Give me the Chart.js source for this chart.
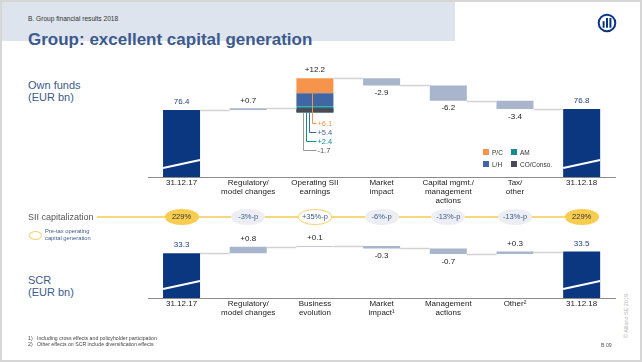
<!DOCTYPE html>
<html>
<head>
<meta charset="utf-8">
<script src="https://cdn.jsdelivr.net/npm/chart.js@4.4.1/dist/chart.umd.min.js"></script>
<style>
  html, body { margin: 0; padding: 0; }
  body { width: 642px; height: 362px; position: relative; overflow: hidden; background: #fff;
         font-family: "Liberation Sans", Arial, sans-serif; }
  .frame { position: absolute; left: 0; top: 0; width: 642px; height: 362px; box-sizing: border-box;
           border: 2px solid #d6d6d6; }
  .band { position: absolute; left: 2px; top: 2px; width: 453px; height: 39px; background: #dde4ee; }
  .txt { position: absolute; white-space: nowrap; }
  canvas { position: absolute; }
  .sii-line { position: absolute; left: 97px; top: 216px; width: 486px; height: 2px; background: #f6d77e; }
  .pill { position: absolute; width: 34px; height: 16px; border-radius: 50%; box-sizing: border-box;
          font-size: 7.5px; line-height: 16px; text-align: center; color: #3c5a8c; }
  .pill.total { background: #f8cc4f; color: #333; }
  .pill.delta { background: #eceef3; }
  .pill.pretax { background: #fff; border: 1.5px solid #f3d274; line-height: 13px; }
  .sq { position: absolute; width: 6px; height: 6px; }
  .lg { position: absolute; font-size: 6.5px; line-height: 7px; color: #333; }
</style>
</head>
<body>
<div class="frame"></div>
<div class="band"></div>
<div class="txt" style="left:28px; top:15px; font-size:6.6px; line-height:7px; color:#333;">B. Group financial results 2018</div>
<div class="txt" style="left:28px; top:31px; font-size:17px; line-height:17px; font-weight:bold; color:#3c5a8c;">Group: excellent capital generation</div>
<svg style="position:absolute; left:597px; top:13px;" width="20" height="20" viewBox="0 0 20 20">
  <circle cx="10" cy="10" r="8.3" fill="none" stroke="#0b3680" stroke-width="2"/>
  <rect x="5.6" y="8.2" width="2" height="6.5" fill="#0b3680"/>
  <rect x="9" y="5" width="2" height="9.7" fill="#0b3680"/>
  <rect x="12.4" y="5" width="2" height="9.7" fill="#0b3680"/>
</svg>

<div class="txt" style="left:28px; top:79px; font-size:11px; line-height:12px; color:#3c5a8c;">Own funds<br>(EUR bn)</div>
<div class="txt" style="left:28px; top:274px; font-size:11px; line-height:12px; color:#3c5a8c;">SCR<br>(EUR bn)</div>

<canvas id="ownFunds" width="480" height="160" style="left:140px; top:55px;"></canvas>
<canvas id="scr" width="480" height="106" style="left:140px; top:230px;"></canvas>

<div id="opLegend"></div>

<div class="sii-line"></div>
<div class="txt" style="left:28px; top:212px; font-size:9px; line-height:10px; color:#555;">SII capitalization</div>
<div id="siiRow"></div>
<div style="position:absolute; left:29px; top:231px; width:11px; height:7px; border:1.3px solid #f3d274; border-radius:50%;"></div>
<div class="txt" style="left:45px; top:228px; font-size:5.8px; line-height:6.6px; color:#3c5a8c;">Pre-tax operating<br>capital generation</div>

<div class="txt" style="left:28px; top:335px; font-size:5.2px; line-height:6.2px; color:#444;">1)&nbsp;&nbsp;&nbsp;Including cross effects and policyholder participation<br>2)&nbsp;&nbsp;&nbsp;Other effects on SCR include diversification effects</div>
<div class="txt" style="left:601px; top:342px; font-size:5.2px; line-height:6px; color:#555;">B 09</div>
<div class="txt" style="left:626px; top:316px; font-size:5.5px; line-height:6px; color:#b5b5b5; transform: translate(-50%, -50%) rotate(-90deg);">© Allianz SE 2019</div>

<script>
// Own funds waterfall
const ofCategories = [['31.12.17'], ['Regulatory/', 'model changes'], ['Operating SII', 'earnings'],
  ['Market', 'impact'], ['Capital mgmt./', 'management', 'actions'], ['Tax/', 'other'], ['31.12.18']];
const ofOpening = 76.4;
const ofDeltas = [0.7, 12.2, -2.9, -6.2, -3.4];
const ofClosing = 76.8;

// split of operating SII earnings
const opLabels = ['P/C', 'L/H', 'AM', 'CO/Conso.'];
const opValues = [6.1, 5.4, 2.4, -1.7];

// SII capitalization row
const siiLabels = ['229%', '-3%-p', '+35%-p', '-6%-p', '-13%-p', '-13%-p', '229%'];

// SCR waterfall
const scrCategories = [['31.12.17'], ['Regulatory/', 'model changes'], ['Business', 'evolution'],
  ['Market', 'impact\u00b9'], ['Management', 'actions'], ['Other\u00b2'], ['31.12.18']];
const scrOpening = 33.3;
const scrDeltas = [0.8, 0.1, -0.3, -0.7, 0.3];
const scrClosing = 33.5;

const NAVY = '#0b3680';
const STEP = '#a9b5cc';
const opColors = ['#f7944c', '#4066a4', '#138d8f', '#4a4a55'];
const FONT = '"Liberation Sans", Arial, sans-serif';
const BAR_PCT = 0.555;

function fmt(v) {
  return (v > 0 ? '+' : '') + v.toFixed(1);
}

// builds floating bars + levels for a waterfall
function buildWaterfall(opening, deltas, closing, axisMin, skipIdx) {
  const n = deltas.length + 2;
  const totals = new Array(n).fill(null);
  const steps = new Array(n).fill(null);
  const levels = [opening];
  totals[0] = [axisMin, opening];
  totals[n - 1] = [axisMin, closing];
  let level = opening;
  deltas.forEach((d, i) => {
    if (i + 1 !== skipIdx) steps[i + 1] = [level, level + d];
    level += d;
    levels.push(level);
  });
  levels.push(closing);
  return { totals, steps, levels };
}

const waterfallDecor = {
  id: 'waterfallDecor',
  afterDatasetsDraw(chart, args, opts) {
    const ctx = chart.ctx;
    const x = chart.scales.x, y = chart.scales.y;
    const half = (x.getPixelForValue(1) - x.getPixelForValue(0)) * BAR_PCT / 2;
    const bottom = chart.chartArea.bottom;
    const lv = opts.levels;
    ctx.save();

    // connectors between bars
    ctx.strokeStyle = '#d3d3d3';
    ctx.lineWidth = 1.5;
    for (let i = 0; i < lv.length - 1; i++) {
      const yy = Math.round(y.getPixelForValue(lv[i])) + 0.5;
      ctx.beginPath();
      ctx.moveTo(x.getPixelForValue(i) + half, yy);
      ctx.lineTo(x.getPixelForValue(i + 1) - half, yy);
      ctx.stroke();
    }

    // axis break on the total bars
    ctx.strokeStyle = '#fff';
    ctx.lineWidth = 2;
    [0, lv.length - 1].forEach(i => {
      const xc = x.getPixelForValue(i);
      ctx.beginPath();
      ctx.moveTo(xc - half, bottom - 9);
      ctx.lineTo(xc + half, bottom - 17);
      ctx.stroke();
    });

    // value labels
    ctx.font = '8px ' + FONT;
    ctx.textAlign = 'center';
    ctx.textBaseline = 'middle';
    ctx.fillStyle = '#1f3f7a';
    ctx.fillText(opts.opening.toFixed(1), x.getPixelForValue(0), y.getPixelForValue(opts.opening) - 8);
    ctx.fillText(opts.closing.toFixed(1), x.getPixelForValue(lv.length - 1), y.getPixelForValue(opts.closing) - 8);
    ctx.fillStyle = '#222';
    opts.deltas.forEach((d, i) => {
      const xc = x.getPixelForValue(i + 1);
      const top = Math.max(lv[i], lv[i + 1]);
      const low = Math.min(lv[i], lv[i + 1]);
      if (d > 0) ctx.fillText(fmt(d), xc, y.getPixelForValue(top) - 8);
      else ctx.fillText(fmt(d), xc, y.getPixelForValue(low) + 7.5);
    });

    // brackets for the operating earnings split
    if (opts.split) {
      const s = opts.split;
      const xc = x.getPixelForValue(s.index);
      const yb = y.getPixelForValue(s.base);
      ctx.lineWidth = 1;
      ctx.textAlign = 'left';
      ctx.font = '7.5px ' + FONT;
      s.values.forEach((v, i) => {
        const lx = Math.round(xc - 2.7 - 3.1 * i) + 0.5;
        const y0 = i === 0 ? y.getPixelForValue(s.segBottom[0]) : yb;
        const y1 = Math.round(yb + 10 + 9 * i) + 0.5;
        ctx.strokeStyle = i === 3 ? '#999' : s.colors[i];
        ctx.beginPath();
        ctx.moveTo(lx, y0);
        ctx.lineTo(lx, y1);
        ctx.lineTo(xc + 1.5, y1);
        ctx.stroke();
        ctx.fillStyle = i === 3 ? '#555' : s.colors[i];
        ctx.fillText(fmt(v), xc + 2.5, y1);
      });
    }
    ctx.restore();
  }
};

function axisOptions(min, max) {
  return {
    x: {
      grid: { display: false, drawTicks: false },
      border: { color: '#8c8c8c', width: 1 },
      ticks: { color: '#222', padding: 1, maxRotation: 0, autoSkip: false,
               font: { size: 8, family: FONT, lineHeight: 1.13 } },
      afterFit: s => { s.height = 38; }
    },
    y: { display: false, min: min, max: max }
  };
}

// ---- Own funds chart ----
const ofMin = 49.3, ofMax = 98.7;
const of = buildWaterfall(ofOpening, ofDeltas, ofClosing, ofMin, 2);
const opTop = of.levels[2];
const opSegments = [];
let cursor = opTop;
opValues.forEach(v => {
  if (v > 0) { opSegments.push([cursor - v, cursor]); cursor -= v; }
});
const opBase = cursor;
opValues.forEach(v => {
  if (v < 0) opSegments.push([opBase, opBase - v]);
});

function opData(seg) {
  const arr = new Array(ofCategories.length).fill(null);
  arr[2] = seg;
  return arr;
}

const barDefaults = { grouped: false, barPercentage: BAR_PCT, categoryPercentage: 1, borderWidth: 0 };

const ofDatasets = [];
// first dataset is drawn on top, so the negative CO slice goes first
for (let i = opSegments.length - 1; i >= 0; i--) {
  ofDatasets.push(Object.assign({ label: opLabels[i], data: opData(opSegments[i]), backgroundColor: opColors[i] }, barDefaults));
}
ofDatasets.push(Object.assign({ label: 'change', data: of.steps, backgroundColor: STEP }, barDefaults));
ofDatasets.push(Object.assign({ label: 'total', data: of.totals, backgroundColor: NAVY }, barDefaults));

const topChart = new Chart(document.getElementById('ownFunds'), {
  type: 'bar',
  data: { labels: ofCategories, datasets: ofDatasets },
  options: {
    responsive: false,
    animation: false,
    layout: { padding: { left: 8.2, right: 5, top: 0, bottom: 0 } },
    plugins: {
      legend: { display: false },
      tooltip: { enabled: false },
      waterfallDecor: {
        levels: of.levels, deltas: ofDeltas, opening: ofOpening, closing: ofClosing,
        split: { index: 2, base: opBase, values: opValues, colors: opColors,
                 segBottom: opSegments.map(s => s[0]) }
      }
    },
    scales: axisOptions(ofMin, ofMax)
  },
  plugins: [waterfallDecor]
});

// ---- SCR chart ----
const scrMin = 27.7, scrMax = 36.2;
const scr = buildWaterfall(scrOpening, scrDeltas, scrClosing, scrMin, -1);

const bottomChart = new Chart(document.getElementById('scr'), {
  type: 'bar',
  data: {
    labels: scrCategories,
    datasets: [
      Object.assign({ label: 'change', data: scr.steps, backgroundColor: STEP }, barDefaults),
      Object.assign({ label: 'total', data: scr.totals, backgroundColor: NAVY }, barDefaults)
    ]
  },
  options: {
    responsive: false,
    animation: false,
    layout: { padding: { left: 8.2, right: 5, top: 0, bottom: 0 } },
    plugins: {
      legend: { display: false },
      tooltip: { enabled: false },
      waterfallDecor: { levels: scr.levels, deltas: scrDeltas, opening: scrOpening, closing: scrClosing }
    },
    scales: axisOptions(scrMin, scrMax)
  },
  plugins: [waterfallDecor]
});

// ---- SII capitalization pills, placed on the chart's category positions ----
const siiRow = document.getElementById('siiRow');
siiLabels.forEach((txt, i) => {
  const cx = 140 + topChart.scales.x.getPixelForValue(i);
  const p = document.createElement('div');
  const kind = (i === 0 || i === siiLabels.length - 1) ? 'total' : (i === 2 ? 'pretax' : 'delta');
  p.className = 'pill ' + kind;
  p.style.left = (cx - 17) + 'px';
  p.style.top = '209px';
  p.textContent = txt;
  siiRow.appendChild(p);
});

// ---- legend for the operating split ----
const lgPos = [[483, 149], [483, 161], [511, 149], [511, 161]];
const opLegend = document.getElementById('opLegend');
opLabels.forEach((lab, i) => {
  const sq = document.createElement('div');
  sq.className = 'sq';
  sq.style.left = lgPos[i][0] + 'px';
  sq.style.top = lgPos[i][1] + 'px';
  sq.style.background = opColors[i];
  opLegend.appendChild(sq);
  const t = document.createElement('div');
  t.className = 'lg';
  t.style.left = (lgPos[i][0] + 9) + 'px';
  t.style.top = (lgPos[i][1] - 0.5) + 'px';
  t.textContent = lab;
  opLegend.appendChild(t);
});
</script>
</body>
</html>
